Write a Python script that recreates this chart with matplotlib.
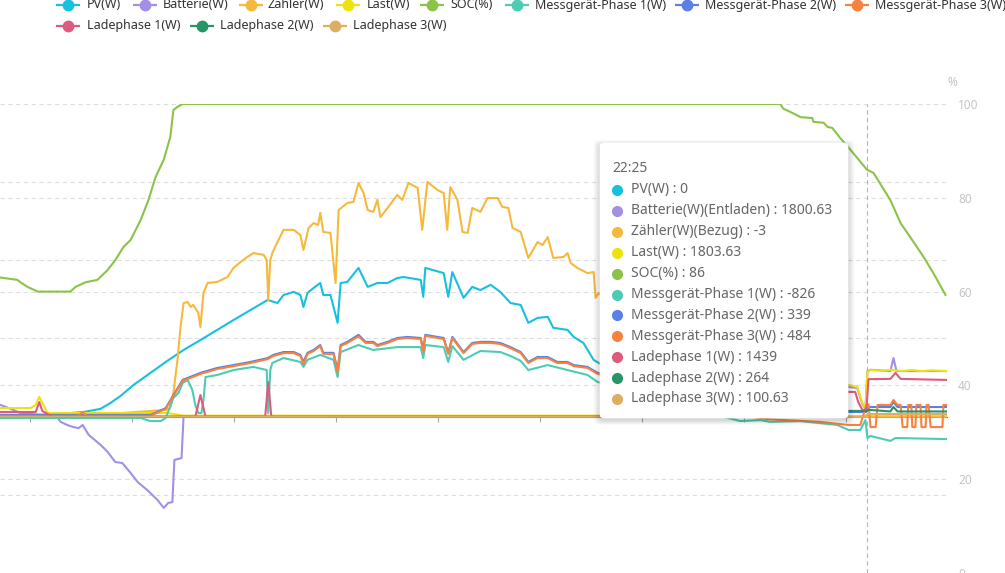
import numpy as np
import matplotlib
matplotlib.use('Agg')
import matplotlib.pyplot as plt
from matplotlib.patches import FancyBboxPatch
from matplotlib.transforms import blended_transform_factory

plt.rcParams['font.family'] = ['Noto Sans', 'DejaVu Sans']

# series names / colours (legend order = draw order)
names = ['PV(W)', 'Batterie(W)', 'Zähler(W)', 'Last(W)', 'SOC(%)',
         'Messgerät-Phase 1(W)', 'Messgerät-Phase 2(W)', 'Messgerät-Phase 3(W)',
         'Ladephase 1(W)', 'Ladephase 2(W)', 'Ladephase 3(W)']
colors = ['#17c0df', '#a48ee6', '#f6b93c', '#eee20e', '#8bc34a',
          '#4ccbb5', '#5a80e6', '#f7823f', '#df5a7f', '#2b9368', '#dcae62']

# (hour of day, value)
pv = [(5.43, 0), (6.55, 100), (7.06, 180), (7.39, 300), (7.59, 530), (7.78, 790),
      (8.04, 1220), (8.37, 1680), (8.70, 2140), (9.02, 2560), (9.35, 2940), (9.68, 3330),
      (10.00, 3710), (10.33, 4090), (10.67, 4480), (10.86, 4360), (10.98, 4670), (11.18, 4790),
      (11.31, 4670), (11.37, 4210), (11.45, 4750), (11.57, 4940), (11.70, 5130), (11.76, 4670),
      (11.90, 4670), (12.04, 3600), (12.10, 5130), (12.23, 5170), (12.45, 5710), (12.63, 4980),
      (12.82, 5130), (13.02, 5130), (13.21, 5320), (13.33, 5360), (13.67, 5250), (13.72, 4600),
      (13.76, 5710), (14.12, 5510), (14.21, 4600), (14.29, 5550), (14.51, 4560), (14.68, 4980),
      (14.84, 4860), (15.04, 5060), (15.23, 4790), (15.43, 4360), (15.63, 4290), (15.78, 3600),
      (15.96, 3790), (16.16, 3830), (16.27, 3410), (16.55, 3330), (16.67, 3060), (16.86, 2830),
      (17.06, 2180), (17.16, 2060), (18.0, 1400), (19.0, 700), (20.0, 200), (20.8, 30),
      (21.3, 0), (23.98, 0)]

batterie = [(5.43, 450), (5.63, 300), (5.82, 140), (6.21, 70), (6.51, 0), (6.55, -50),
            (6.61, -200), (6.74, -320), (6.86, -400), (6.96, -440), (7.04, -320), (7.16, -700),
            (7.39, -1080), (7.53, -1350), (7.68, -1740), (7.82, -1780), (7.98, -2160),
            (8.12, -2510), (8.31, -2820), (8.51, -3200), (8.63, -3500), (8.72, -3310),
            (8.80, -3280), (8.84, -1660), (8.98, -1590), (9.02, 0), (19.5, 0), (20.3, 480),
            (21.2, 980), (22.06, 1140), (22.23, 1100), (22.33, 490), (22.39, 300),
            (22.43, 1750), (22.49, 1800), (22.88, 1750), (22.94, 2250), (23.0, 1750),
            (23.98, 1750)]

zaehler = [(5.43, 30), (7.04, 30), (8.67, 260), (8.76, 330), (8.82, 910), (8.90, 2180),
           (8.96, 3440), (9.02, 4360), (9.10, 4400), (9.16, 4210), (9.21, 4290), (9.31, 3980),
           (9.35, 3440), (9.41, 4750), (9.49, 5130), (9.68, 5170), (9.88, 5360), (10.00, 5710),
           (10.14, 5940), (10.27, 6130), (10.39, 6280), (10.59, 6210), (10.65, 6010),
           (10.68, 4480), (10.72, 6010), (10.76, 6280), (10.86, 6700), (10.98, 7170),
           (11.18, 7170), (11.31, 6970), (11.37, 6400), (11.47, 7240), (11.57, 7430),
           (11.66, 7360), (11.70, 7820), (11.76, 7090), (11.90, 7050), (12.00, 5130),
           (12.06, 7930), (12.23, 8200), (12.35, 8240), (12.45, 8970), (12.55, 8580),
           (12.63, 7930), (12.74, 7860), (12.82, 8320), (12.88, 7660), (13.02, 8010),
           (13.21, 8510), (13.31, 8320), (13.43, 8970), (13.61, 8780), (13.70, 7170),
           (13.80, 9010), (14.00, 8700), (14.12, 8580), (14.19, 7170), (14.25, 8810),
           (14.39, 8320), (14.49, 7090), (14.59, 7050), (14.68, 8010), (14.84, 7860),
           (14.98, 8390), (15.18, 8390), (15.27, 8050), (15.39, 8010), (15.47, 7240),
           (15.63, 7090), (15.78, 6090), (15.96, 6700), (16.06, 6590), (16.16, 6890),
           (16.27, 6090), (16.47, 6130), (16.55, 6280), (16.61, 5900), (16.74, 5710),
           (16.94, 5510), (17.06, 5550), (17.10, 4560), (17.16, 4750), (17.8, 3500),
           (18.6, 2000), (19.4, 800), (20.0, 0), (23.98, 0)]

last = [(5.43, 330), (6.02, 330), (6.12, 450), (6.19, 760), (6.27, 450), (6.35, 140),
        (8.70, 140), (9.02, 40), (19.5, 40), (20.3, 500), (21.2, 1000), (22.06, 1220),
        (22.23, 1140), (22.25, 1030), (22.33, 530), (22.39, 330), (22.43, 1720),
        (22.49, 1790), (22.7, 1760), (22.9, 1800), (23.1, 1750), (23.3, 1790), (23.5, 1750),
        (23.7, 1780), (23.98, 1750)]

soc = [(5.43, 63), (5.76, 62.5), (5.82, 62), (5.96, 61), (6.16, 60), (6.80, 60), (6.90, 61),
       (7.10, 62), (7.33, 62.5), (7.53, 64.6), (7.68, 66.7), (7.84, 69.5), (7.98, 71),
       (8.18, 75.3), (8.33, 79.5), (8.47, 84.4), (8.63, 88.1), (8.76, 93), (8.82, 98.7),
       (8.90, 99.4), (9.00, 100), (20.72, 100), (20.78, 99), (20.92, 98.3), (21.12, 97.2),
       (21.35, 97), (21.37, 96.2), (21.57, 96), (21.65, 95.1), (21.74, 94.9), (21.90, 92.7),
       (22.10, 90.2), (22.42, 86), (22.55, 85.3), (22.88, 79.5), (23.08, 74.6), (23.27, 71.6),
       (23.53, 67.4), (23.72, 64), (23.96, 59.3)]

phase1 = [(5.43, -50), (8.18, -50), (8.37, -170), (8.57, -170), (8.67, -50), (8.82, 720),
          (8.92, 910), (9.00, 1290), (9.10, 1410), (9.19, 1030), (9.25, 450), (9.31, 140),
          (9.37, 140), (9.41, 640), (9.45, 1520), (9.68, 1600), (10.00, 1790), (10.39, 1910),
          (10.65, 1790), (10.68, 140), (10.72, 1790), (10.76, 2060), (10.98, 2250),
          (11.31, 2100), (11.37, 1910), (11.45, 2180), (11.70, 2370), (11.96, 2180),
          (12.04, 1520), (12.10, 2480), (12.45, 2750), (12.74, 2560), (13.21, 2670),
          (13.67, 2670), (13.72, 2250), (13.76, 2750), (14.12, 2670), (14.21, 2100),
          (14.29, 2710), (14.51, 2180), (14.84, 2520), (15.23, 2480), (15.43, 2330),
          (15.63, 2140), (15.78, 1790), (16.16, 1980), (16.55, 1790), (16.94, 1600),
          (17.14, 1330), (18.0, 900), (19.0, 300), (19.94, -170), (20.33, -130),
          (20.52, -200), (21.12, -170), (21.84, -320), (22.06, -510), (22.29, -510),
          (22.39, -130), (22.43, -820), (22.49, -740), (22.88, -930), (22.98, -820),
          (23.98, -860)]

phase2 = [(5.43, 70), (8.37, 70), (8.67, 330), (8.82, 830), (9.00, 1410), (9.35, 1680),
          (9.68, 1870), (10.00, 1980), (10.33, 2100), (10.67, 2250), (10.78, 2370),
          (10.98, 2480), (11.18, 2480), (11.31, 2370), (11.37, 2100), (11.45, 2450),
          (11.57, 2560), (11.70, 2750), (11.76, 2450), (11.96, 2450), (12.04, 1790),
          (12.10, 2750), (12.23, 2870), (12.45, 3140), (12.59, 2870), (12.74, 2870),
          (12.82, 2750), (13.02, 2870), (13.21, 3020), (13.41, 3060), (13.67, 3020),
          (13.72, 2560), (13.76, 3140), (14.12, 3020), (14.21, 2450), (14.29, 3060),
          (14.51, 2480), (14.68, 2830), (14.84, 2870), (15.04, 2870), (15.23, 2830),
          (15.43, 2670), (15.63, 2480), (15.78, 2100), (15.96, 2290), (16.16, 2290),
          (16.35, 2100), (16.55, 2100), (16.67, 1980), (16.94, 1910), (17.14, 1680),
          (18.0, 1300), (19.0, 600), (19.8, 150), (21.0, 180), (22.06, 180), (22.41, 180),
          (22.47, 370), (22.88, 370), (22.94, 560), (23.02, 370), (23.98, 370)]

phase3 = [(5.43, 30), (6.95, 30), (7.04, 180), (7.12, 30), (8.37, 30), (8.67, 300),
          (8.82, 790), (9.00, 1370), (9.35, 1640), (9.68, 1830), (10.00, 1940), (10.33, 2060),
          (10.67, 2210), (10.78, 2330), (10.98, 2440), (11.18, 2440), (11.31, 2330),
          (11.37, 2020), (11.45, 2410), (11.57, 2520), (11.70, 2710), (11.76, 2410),
          (11.96, 2410), (12.04, 1710), (12.10, 2710), (12.23, 2830), (12.45, 3080),
          (12.59, 2830), (12.74, 2830), (12.82, 2710), (13.02, 2830), (13.21, 2980),
          (13.41, 3020), (13.67, 2980), (13.72, 2480), (13.76, 3100), (14.12, 2980),
          (14.21, 2410), (14.29, 3020), (14.51, 2440), (14.68, 2790), (14.84, 2830),
          (15.04, 2830), (15.23, 2790), (15.43, 2630), (15.63, 2440), (15.78, 2060),
          (15.96, 2250), (16.16, 2250), (16.35, 2060), (16.55, 2060), (16.67, 1940),
          (16.94, 1870), (17.14, 1640), (18.0, 1250), (19.0, 550), (19.8, 100), (20.5, -100),
          (21.5, -200), (22.06, -320), (22.29, -320), (22.35, 70), (22.41, 450), (22.45, 480),
          (22.49, -400), (22.59, -400), (22.63, 450), (22.88, 450), (22.94, 640), (23.02, 450),
          (23.08, 450), (23.12, -400), (23.21, -400), (23.23, 450), (23.29, 450), (23.31, -400),
          (23.37, -400), (23.39, 450), (23.47, 450), (23.49, -400), (23.57, -400), (23.59, 450),
          (23.63, 450), (23.67, -400), (23.90, -400), (23.92, 450), (23.98, 450)]

lade1 = [(5.43, 180), (6.12, 180), (6.19, 560), (6.25, 220), (6.35, 100), (6.45, 0),
         (9.25, 0), (9.35, 830), (9.45, 0), (10.62, 0), (10.68, 1330), (10.74, 0), (20.3, 0),
         (20.8, 600), (21.5, 950), (22.06, 950), (22.19, 950), (22.25, 560), (22.33, 260),
         (22.41, 260), (22.45, 1440), (22.88, 1450), (22.98, 1680), (23.08, 1450),
         (23.98, 1410)]

lade2 = [(5.43, 0), (21.0, 0), (21.6, 220), (22.41, 220), (22.45, 264), (22.88, 200),
         (22.94, 370), (23.02, 200), (23.98, 200)]

lade3 = [(5.43, 0), (22.35, 0), (22.45, 100), (23.98, 100)]

power_series = [pv, batterie, zaehler, last, None, phase1, phase2, phase3, lade1, lade2, lade3]

# tooltip at the cursor
cursor_time = 22 + 25 / 60
tip_title = '22:25'
tip_labels = ['PV(W)', 'Batterie(W)(Entladen)', 'Zähler(W)(Bezug)', 'Last(W)', 'SOC(%)',
              'Messgerät-Phase 1(W)', 'Messgerät-Phase 2(W)', 'Messgerät-Phase 3(W)',
              'Ladephase 1(W)', 'Ladephase 2(W)', 'Ladephase 3(W)']
tip_values = ['0', '1800.63', '-3', '1803.63', '86', '-826', '339', '484', '1439', '264', '100.63']

W, H = 1005, 573
fig = plt.figure(figsize=(W / 100, H / 100), dpi=100)
top, right = 104, 947
ax = fig.add_axes([0, 0, right / W, (H - top) / H])
ax2 = ax.twinx()

ax.set_xlim(5.42, 23.99)
ax.set_ylim(-6000, 12000)
ax2.set_ylim(0, 100)

grid_kw = dict(color='#dedede', lw=0.8, ls=(0, (4, 3)), zorder=0.5)
for v in [-3000, 3000, 6000, 9000, 12000]:
    ax.axhline(v, **grid_kw)
tr = blended_transform_factory(ax.transAxes, ax2.transData)
for p in [20, 40, 60, 80]:
    ax.plot([0, 1], [p, p], transform=tr, **grid_kw)

for s in ['top', 'left', 'right']:
    ax.spines[s].set_visible(False)
    ax2.spines[s].set_visible(False)
ax2.spines['bottom'].set_visible(False)
ax.spines['bottom'].set_position(('data', 0))
ax.spines['bottom'].set_color('#6E7079')
ax.spines['bottom'].set_zorder(0.8)
ax.set_xticks(np.arange(6, 24, 2))
ax.tick_params(axis='x', direction='out', length=3.5, width=0.8, color='#a6a8ae',
               labelbottom=False)
ax.set_yticks([])
ax2.set_yticks([0, 20, 40, 60, 80, 100])
ax2.tick_params(axis='y', length=0, pad=8, labelsize=8.5, labelcolor='#c4c4c4')

# crosshair
ax.axvline(cursor_time, color='#b4b4b4', lw=0.8, ls=(0, (4, 3)), zorder=0.6)

for i, data in enumerate(power_series):
    if data is None:
        continue
    t, v = np.array(data).T
    ax.plot(t, v, color=colors[i], lw=1.5, zorder=2 + i * 0.01, solid_joinstyle='round')
t, v = np.array(soc).T
ax2.plot(t, v, color=colors[4], lw=1.5, solid_joinstyle='round')

# overlay in pixel coordinates for legend / tooltip / axis name
ov = fig.add_axes([0, 0, 1, 1], zorder=10)
ov.set_xlim(0, W)
ov.set_ylim(H, 0)
ov.axis('off')
ov.patch.set_alpha(0)

ov.text(952, 82, '%', color='#c4c4c4', fontsize=8.5, ha='center', va='center')

legend_pos = [(68, 5, 87), (145, 5, 163), (251, 5, 267), (348, 5, 367), (432, 5, 450),
              (517, 5, 535), (687, 5, 705), (857, 5, 875),
              (68, 26, 87), (202, 26, 220), (335, 26, 353)]
for (cx, cy, tx), name, c in zip(legend_pos, names, colors):
    ov.plot([cx - 12, cx + 12], [cy, cy], color=c, lw=1.6, solid_capstyle='butt')
    ov.plot(cx, cy, 'o', ms=7.5, color=c, mec=c)
    ov.text(tx, cy, name, color='#333333', fontsize=9, va='center', ha='left')

# tooltip box with soft shadow
bx, by, bw, bh = 600, 143, 248, 275
for k in range(8, 0, -1):
    ov.add_patch(FancyBboxPatch((bx - k * 0.8, by - k * 0.6 + 2), bw + k * 1.6, bh + k * 1.2,
                                boxstyle='round,pad=0,rounding_size=6',
                                fc='black', ec='none', alpha=0.018))
ov.add_patch(FancyBboxPatch((bx, by), bw, bh, boxstyle='round,pad=0,rounding_size=4',
                            fc='white', ec='#ffffff', lw=0.5))
ov.text(612, 169, tip_title, color='#666666', fontsize=10, va='center', ha='left')
for i, (lab, val) in enumerate(zip(tip_labels, tip_values)):
    y = 190 + i * 20.9
    ov.plot(617, y, 'o', ms=7, color=colors[i], mec=colors[i])
    ov.text(631, y, f'{lab} : {val}', color='#666666', fontsize=10, va='center', ha='left')

fig.savefig('out.png', dpi=100)
